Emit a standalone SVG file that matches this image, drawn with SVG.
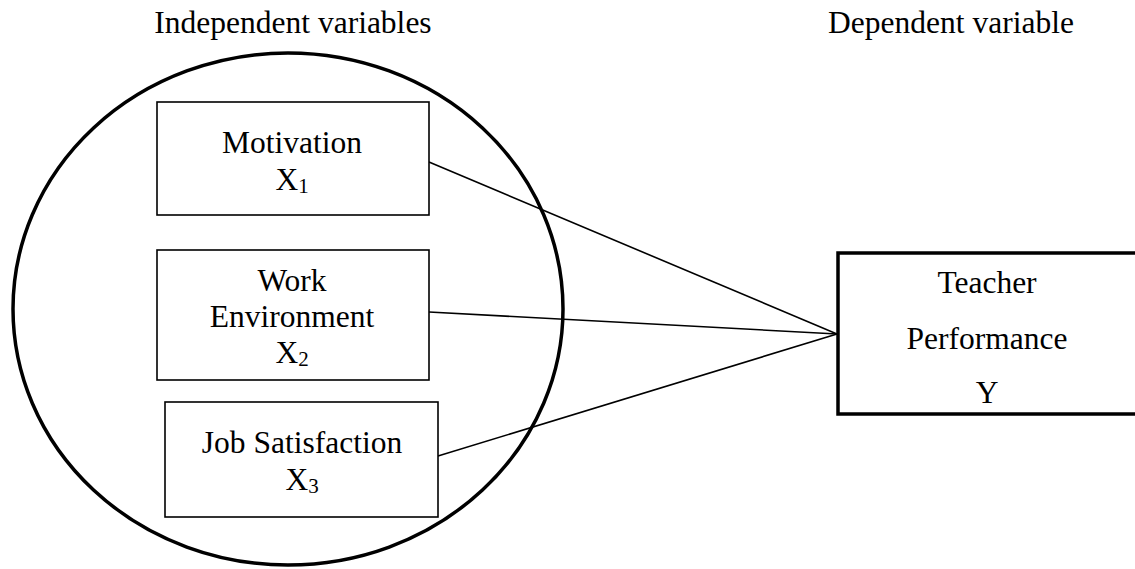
<svg xmlns="http://www.w3.org/2000/svg" width="1135" height="569" viewBox="0 0 1135 569">
<style>
text{font-family:'Liberation Serif','Times New Roman',serif;font-size:31.5px;fill:#000;text-anchor:middle}
.box{fill:#fff;stroke:#000;stroke-width:1.6}
.conn{stroke:#000;stroke-width:1.6;fill:none}
.sub{font-size:21px}
</style>
<rect width="1135" height="569" fill="#fff"/>
<g font-family="Liberation Serif, Times New Roman, serif">
<text x="293" y="33">Independent variables</text>
<text x="951" y="33">Dependent variable</text>
<ellipse id="group" cx="288" cy="309" rx="275" ry="256" fill="none" stroke="#000" stroke-width="3.5"/>
<g id="connectors">
<line class="conn" x1="429" y1="162" x2="837" y2="334"/>
<line class="conn" x1="429" y1="312" x2="837" y2="334"/>
<line class="conn" x1="438" y1="456" x2="837" y2="334"/>
</g>
<g id="motivation">
<rect class="box" x="157" y="102" width="272" height="113"/>
<text x="292" y="153">Motivation</text>
<text x="292" y="190">X<tspan class="sub" dy="3">1</tspan></text>
</g>
<g id="work">
<rect class="box" x="157" y="250" width="272" height="130"/>
<text x="292" y="291">Work</text>
<text x="292" y="327">Environment</text>
<text x="292" y="363">X<tspan class="sub" dy="3">2</tspan></text>
</g>
<g id="job">
<rect class="box" x="165" y="402" width="273" height="115"/>
<text x="302" y="453">Job Satisfaction</text>
<text x="302" y="490">X<tspan class="sub" dy="3">3</tspan></text>
</g>
<g id="teacher">
<rect x="838" y="253" width="300" height="161" fill="#fff" stroke="#000" stroke-width="3.5"/>
<text x="987" y="293">Teacher</text>
<text x="987" y="349">Performance</text>
<text x="987" y="403">Y</text>
</g>
</g>
</svg>
